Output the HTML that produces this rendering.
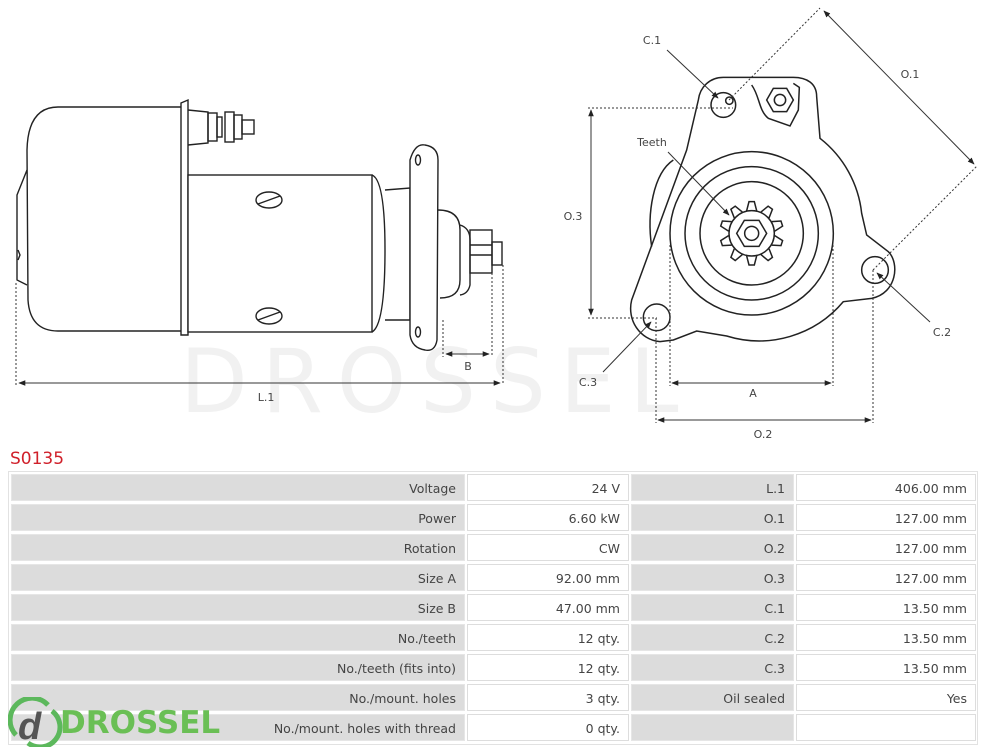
<!DOCTYPE html>
<html><head><meta charset="utf-8"><style>
body{margin:0;width:990px;height:750px;background:#fff;position:relative;overflow:hidden;font-family:"DejaVu Sans","Liberation Sans",sans-serif}
.c{position:absolute;height:27px;line-height:27px;font-size:12.5px;color:#444;text-align:right;box-sizing:border-box;padding-right:8px}
.g{background:#dcdcdc;border:1px solid #e6e6e6}
.w{background:#fff;border:1px solid #ddd}
</style></head><body>
<svg width="990" height="470" style="position:absolute;left:0;top:0" font-family="DejaVu Sans, Liberation Sans, sans-serif">
<defs><marker id="a" viewBox="0 0 10 10" refX="9" refY="5" markerWidth="7" markerHeight="7" orient="auto-start-reverse"><path d="M0,1 L10,5 L0,9 z" fill="#222"/></marker></defs>
<text x="180" y="412" font-size="88" fill="#f1f1f1" letter-spacing="14">DROSSEL</text>
<g fill="none" stroke="#222" stroke-width="1.4">
<!-- side view -->
<path d="M58,107 L183,107 L183,331 L58,331 Q30,331 28,300 L27,150 Q28,107 58,107 Z" fill="#fff"/>
<path d="M27,170 L17,195 L17,280 L27,285"/>
<path d="M181,103 L188,100 L188,335 L181,335 Z" fill="#fff"/>
<path d="M188,110 L208,112 L208,143 L188,145"/>
<rect x="208" y="113" width="9" height="28"/><rect x="217" y="117" width="5" height="20"/>
<rect x="225" y="112" width="9" height="30"/><rect x="234" y="115" width="8" height="24"/>
<rect x="242" y="120" width="12" height="14"/>
<rect x="188" y="175" width="184" height="157" fill="#fff"/>
<path d="M372,175 Q385,180 385,250 Q385,325 372,332"/>
<path d="M385,190 L410,188 L410,320 L385,320"/>
<path d="M410,160 Q415,143 425,145 Q438,147 438,160 L437,340 Q435,352 425,350 Q412,348 410,335 Z" fill="#fff"/>
<ellipse cx="418" cy="160" rx="2.5" ry="5"/><ellipse cx="418" cy="332" rx="2.5" ry="5"/>
<path d="M438,210 Q460,210 460,230 L460,280 Q460,298 440,298"/>
<path d="M460,225 Q470,228 470,240 L470,285 Q468,294 460,295"/>
<rect x="470" y="230" width="22" height="43"/><rect x="492" y="242" width="10" height="23"/>
<line x1="470" y1="245" x2="492" y2="245"/><line x1="470" y1="255" x2="492" y2="255"/>
<ellipse cx="269" cy="200" rx="13" ry="8"/><line x1="258" y1="204" x2="280" y2="196"/>
<ellipse cx="269" cy="316" rx="13" ry="8"/><line x1="258" y1="320" x2="280" y2="312"/>
<path d="M18,250 L20,255 L18,260"/>
</g>
<g stroke="#333" stroke-width="1" fill="none">
<line x1="16" y1="283" x2="16" y2="385" stroke-dasharray="2,2"/>
<line x1="503" y1="265" x2="503" y2="385" stroke-dasharray="2,2"/>
<line x1="443" y1="320" x2="443" y2="357" stroke-dasharray="2,2"/>
<line x1="492" y1="273" x2="492" y2="357" stroke-dasharray="2,2"/>
<line x1="19" y1="383" x2="500" y2="383" marker-start="url(#a)" marker-end="url(#a)"/>
<line x1="446" y1="354" x2="489" y2="354" marker-start="url(#a)" marker-end="url(#a)"/>
</g>
<text x="266" y="401" font-size="11" fill="#444" text-anchor="middle">L.1</text>
<text x="468" y="370" font-size="11" fill="#444" text-anchor="middle">B</text>
<!-- front view -->
<g transform="translate(560,0) scale(0.33333)" fill="none" stroke="#222" stroke-width="4.5">
<path d="M215,900 C200,960 240,1020 300,1025 L340,1020 L410,993 L500,1008 A330,330 0 0 0 850,905 L935,895 C1010,880 1020,790 985,755 L920,705 L905,640 A330,330 0 0 0 780,415 L770,290 C770,250 740,232 700,232 L490,232 C450,232 420,260 415,300 L380,450 Z"/>
<path d="M340,480 C280,520 260,640 275,740"/>
<path d="M575,255 C600,290 595,330 625,355 L690,378 L715,330 L718,262 L700,250"/>
<circle cx="575" cy="700" r="245"/><circle cx="575" cy="700" r="200"/><circle cx="575" cy="700" r="155"/>
<circle cx="490" cy="315" r="37"/><circle cx="508" cy="302" r="11"/>
<circle cx="945" cy="810" r="40"/><circle cx="290" cy="952" r="40"/>
<polygon points="700,300 680,335 640,335 620,300 640,265 680,265"/><circle cx="660" cy="300" r="17"/>
<circle cx="575" cy="700" r="68"/>
<g id="t"><path d="M560,632 L567,605 L583,605 L590,632"/></g>
<use href="#t" transform="rotate(36 575 700)"/><use href="#t" transform="rotate(72 575 700)"/><use href="#t" transform="rotate(108 575 700)"/><use href="#t" transform="rotate(144 575 700)"/><use href="#t" transform="rotate(180 575 700)"/><use href="#t" transform="rotate(216 575 700)"/><use href="#t" transform="rotate(252 575 700)"/><use href="#t" transform="rotate(288 575 700)"/><use href="#t" transform="rotate(324 575 700)"/>
<polygon points="620,700 597,739 553,739 530,700 553,661 597,661"/><circle cx="575" cy="700" r="21"/>
</g>
<g stroke="#333" stroke-width="1" fill="none">
<g stroke-dasharray="2,2">
<line x1="588" y1="108" x2="733" y2="108"/><line x1="588" y1="318" x2="657" y2="318"/>
<line x1="670" y1="245" x2="670" y2="386"/><line x1="833" y1="245" x2="833" y2="386"/>
<line x1="656" y1="318" x2="656" y2="423"/><line x1="873" y1="270" x2="873" y2="423"/>
<line x1="729" y1="100" x2="820" y2="8"/><line x1="873" y1="270" x2="977" y2="166"/>
</g>
<line x1="591" y1="110" x2="591" y2="315" marker-start="url(#a)" marker-end="url(#a)"/>
<line x1="672" y1="383" x2="831" y2="383" marker-start="url(#a)" marker-end="url(#a)"/>
<line x1="658" y1="420" x2="871" y2="420" marker-start="url(#a)" marker-end="url(#a)"/>
<line x1="824" y1="11" x2="974" y2="164" marker-start="url(#a)" marker-end="url(#a)"/>
<line x1="667" y1="50" x2="718" y2="98" marker-end="url(#a)"/>
<line x1="668" y1="152" x2="729" y2="215" marker-end="url(#a)"/>
<line x1="930" y1="322" x2="877" y2="273" marker-end="url(#a)"/>
<line x1="603" y1="372" x2="651" y2="322" marker-end="url(#a)"/>
</g>
<g font-size="11" fill="#444" text-anchor="middle">
<text x="652" y="44">C.1</text><text x="652" y="146">Teeth</text><text x="573" y="220">O.3</text>
<text x="910" y="78">O.1</text><text x="942" y="336">C.2</text><text x="588" y="386">C.3</text>
<text x="753" y="397">A</text><text x="763" y="438">O.2</text>
</g>
<text x="10" y="464" font-size="17" fill="#d0202a">S0135</text>
</svg>
<div style="position:absolute;left:8px;top:471px;width:970px;height:274px;border:1px solid #e2e2e2;box-sizing:border-box"></div>
<div class="c g" style="left:11px;top:474px;width:454px">Voltage</div><div class="c w" style="left:467px;top:474px;width:162px">24 V</div><div class="c g" style="left:631px;top:474px;width:163px">L.1</div><div class="c w" style="left:796px;top:474px;width:180px">406.00 mm</div>
<div class="c g" style="left:11px;top:504px;width:454px">Power</div><div class="c w" style="left:467px;top:504px;width:162px">6.60 kW</div><div class="c g" style="left:631px;top:504px;width:163px">O.1</div><div class="c w" style="left:796px;top:504px;width:180px">127.00 mm</div>
<div class="c g" style="left:11px;top:534px;width:454px">Rotation</div><div class="c w" style="left:467px;top:534px;width:162px">CW</div><div class="c g" style="left:631px;top:534px;width:163px">O.2</div><div class="c w" style="left:796px;top:534px;width:180px">127.00 mm</div>
<div class="c g" style="left:11px;top:564px;width:454px">Size A</div><div class="c w" style="left:467px;top:564px;width:162px">92.00 mm</div><div class="c g" style="left:631px;top:564px;width:163px">O.3</div><div class="c w" style="left:796px;top:564px;width:180px">127.00 mm</div>
<div class="c g" style="left:11px;top:594px;width:454px">Size B</div><div class="c w" style="left:467px;top:594px;width:162px">47.00 mm</div><div class="c g" style="left:631px;top:594px;width:163px">C.1</div><div class="c w" style="left:796px;top:594px;width:180px">13.50 mm</div>
<div class="c g" style="left:11px;top:624px;width:454px">No./teeth</div><div class="c w" style="left:467px;top:624px;width:162px">12 qty.</div><div class="c g" style="left:631px;top:624px;width:163px">C.2</div><div class="c w" style="left:796px;top:624px;width:180px">13.50 mm</div>
<div class="c g" style="left:11px;top:654px;width:454px">No./teeth (fits into)</div><div class="c w" style="left:467px;top:654px;width:162px">12 qty.</div><div class="c g" style="left:631px;top:654px;width:163px">C.3</div><div class="c w" style="left:796px;top:654px;width:180px">13.50 mm</div>
<div class="c g" style="left:11px;top:684px;width:454px">No./mount. holes</div><div class="c w" style="left:467px;top:684px;width:162px">3 qty.</div><div class="c g" style="left:631px;top:684px;width:163px">Oil sealed</div><div class="c w" style="left:796px;top:684px;width:180px">Yes</div>
<div class="c g" style="left:11px;top:714px;width:454px">No./mount. holes with thread</div><div class="c w" style="left:467px;top:714px;width:162px">0 qty.</div><div class="c g" style="left:631px;top:714px;width:163px"></div><div class="c w" style="left:796px;top:714px;width:180px"></div>
<svg width="240" height="50" style="position:absolute;left:8px;top:697px">
<path d="M8,38 A20,20 0 0 1 40,8" fill="none" stroke="#5cb85c" stroke-width="5"/>
<path d="M44,14 A20,20 0 0 1 20,46" fill="none" stroke="#5cb85c" stroke-width="5"/>
<text x="10" y="42" font-family="Liberation Sans, sans-serif" font-weight="bold" font-style="italic" font-size="38" fill="#555">d</text>
<text x="52" y="36" font-family="DejaVu Sans, sans-serif" font-weight="bold" font-size="31" fill="#6abf55">DROSSEL</text>
</svg>
</body></html>
